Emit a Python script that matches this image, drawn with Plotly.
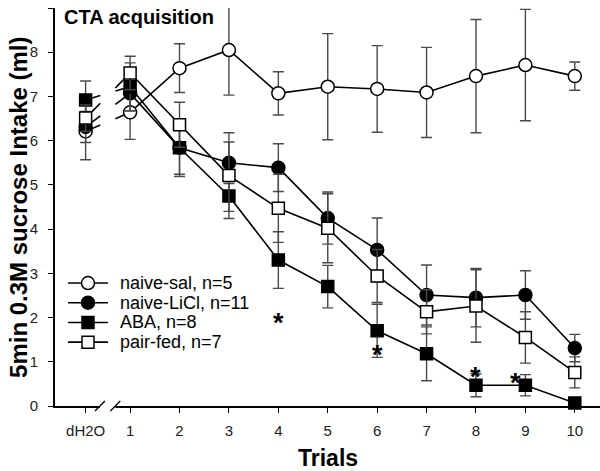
import plotly.graph_objects as go

# ---------------- data ----------------
tick_labels = ["dH2O", "1", "2", "3", "4", "5", "6", "7", "8", "9", "10"]
x_dh2o = 0.1
trials = [1, 2, 3, 4, 5, 6, 7, 8, 9, 10]

naive_sal = [6.21, 6.64, 7.64, 8.05, 7.07, 7.22, 7.17, 7.09, 7.46, 7.71, 7.46]
naive_sal_err = [0.64, 0.61, 0.55, 1.02, 0.49, 1.20, 0.98, 1.02, 1.28, 1.26, 0.32]

naive_licl = [6.31, 7.07, 5.84, 5.50, 5.39, 4.25, 3.53, 2.51, 2.45, 2.51, 1.31]
naive_licl_err = [0.35, 0.40, 0.65, 0.47, 0.54, 0.59, 0.72, 0.68, 0.66, 0.55, 0.31]

aba = [6.92, 7.22, 5.84, 4.75, 3.30, 2.70, 1.70, 1.18, 0.47, 0.47, 0.07]
aba_err = [0.43, 0.54, 0.60, 0.35, 0.64, 0.48, 0.60, 0.61, 0.26, 0.24, 0.05]

pair_fed = [6.51, 7.53, 6.36, 5.21, 4.47, 4.02, 2.94, 2.13, 2.26, 1.55, 0.76]
pair_fed_err = [0.30, 0.38, 0.51, 0.97, 0.77, 0.78, 0.60, 0.50, 0.82, 0.58, 0.35]

names = ["naive-sal, n=5", "naive-LiCl, n=11", "ABA, n=8", "pair-fed, n=7"]

sig_x = [4, 6, 8, 8.8]
sig_y = [2.0, 1.27, 0.78, 0.63]

# ---------------- style ----------------
FONT = "Liberation Sans, Arial, sans-serif"
series = [
    (naive_sal, naive_sal_err, "circle", "white", 13),
    (naive_licl, naive_licl_err, "circle", "black", 13),
    (aba, aba_err, "square", "black", 12),
    (pair_fed, pair_fed_err, "square", "white", 12),
]
stub_f, stub_g = 0.33, 0.67  # fraction of dH2O->1 segment kept on each side of the axis break

fig = go.Figure()

# broken connector stubs between dH2O and trial 1
for vals, err, sym, fill, size in series:
    x0, x1 = x_dh2o, trials[0]
    y0, y1 = vals[0], vals[1]
    xs = [x0, x0 + stub_f * (x1 - x0), None, x0 + stub_g * (x1 - x0), x1]
    ys = [y0, y0 + stub_f * (y1 - y0), None, y0 + stub_g * (y1 - y0), y1]
    fig.add_trace(go.Scatter(x=xs, y=ys, mode="lines", line=dict(color="black", width=1.6),
                             showlegend=False, hoverinfo="skip"))

for (vals, err, sym, fill, size), nm in zip(series, names):
    xs = [x_dh2o, None] + trials
    ys = [vals[0], None] + vals[1:]
    es = [err[0], None] + err[1:]
    fig.add_trace(go.Scatter(
        x=xs, y=ys, name=nm, mode="lines+markers", showlegend=False, cliponaxis=False,
        line=dict(color="black", width=1.6),
        marker=dict(symbol=sym, size=size, color=fill, opacity=1,
                    line=dict(color="black", width=1.5)),
        error_y=dict(type="data", array=es, visible=True, color="#4a4a4a", thickness=1.4, width=5.5),
        connectgaps=False,
    ))

# custom legend on an overlay axis pair (row index layout)
for i, ((vals, err, sym, fill, size), nm) in enumerate(zip(series, names)):
    fig.add_trace(go.Scatter(
        x=[0, 0.5, 1], y=[i, i, i], mode="lines+markers", xaxis="x2", yaxis="y2",
        showlegend=False, hoverinfo="skip", cliponaxis=False,
        line=dict(color="black", width=1.6),
        marker=dict(symbol=sym, size=[0, size, 0], color=fill, opacity=1,
                    line=dict(color="black", width=1.5)),
    ))
    fig.add_annotation(x=1, y=i, xref="x2", yref="y2", xanchor="left", yanchor="middle",
                       xshift=10, text=nm, showarrow=False,
                       font=dict(family=FONT, size=18, color="black"))

for sx, sy in zip(sig_x, sig_y):
    fig.add_annotation(x=sx, y=sy, text="<b>*</b>", showarrow=False,
                       font=dict(family=FONT, size=27, color="black"), yanchor="middle", yshift=-5)

fig.add_annotation(x=0.013, y=1.0, xref="paper", yref="paper", xanchor="left", yanchor="top",
                   yshift=4, text="<b>CTA acquisition</b>", showarrow=False,
                   font=dict(family=FONT, size=20, color="black"))

fig.add_annotation(x=0.5, y=-0.131, xref="paper", yref="paper", xanchor="center", yanchor="middle",
                   text="<b>Trials</b>", showarrow=False, font=dict(family=FONT, size=23, color="black"))
fig.add_annotation(x=-0.068, y=0.5, xref="paper", yref="paper", xanchor="center", yanchor="middle",
                   textangle=-90, text="<b>5min 0.3M sucrose Intake (ml)</b>", showarrow=False,
                   font=dict(family=FONT, size=24, color="black"))

# axis break on x axis
brk_a, brk_b = 0.39, 0.70
fig.add_shape(type="line", xref="x", yref="paper", x0=brk_a, x1=brk_b, y0=0, y1=0,
              line=dict(color="white", width=4))
for bx in (brk_a, brk_b):
    fig.add_shape(type="line", xref="x", yref="paper", x0=bx - 0.1, x1=bx + 0.1,
                  y0=-0.0126, y1=0.0126, line=dict(color="black", width=1.3))

fig.update_xaxes(range=[-0.52, 10.51], tickmode="array", tickvals=[x_dh2o] + trials,
                 ticktext=tick_labels, showgrid=False, zeroline=False, showline=True,
                 linecolor="black", linewidth=2, ticks="outside", ticklen=5, tickwidth=1.3,
                 tickcolor="black", tickfont=dict(family=FONT, size=15, color="#222"),
                 ticklabelstandoff=5, automargin=False)
fig.update_yaxes(range=[0, 9], tickvals=list(range(10)), showgrid=False, zeroline=False,
                 showline=True, linecolor="black", linewidth=2, ticks="outside", ticklen=5,
                 tickwidth=1.3, tickcolor="black", tickfont=dict(family=FONT, size=15, color="#222"),
                 ticklabelstandoff=7, automargin=False)

fig.update_layout(
    width=600, height=471, margin=dict(l=55, r=0, t=8, b=65, autoexpand=False),
    paper_bgcolor="white", plot_bgcolor="white",
    xaxis2=dict(domain=[0.0239, 0.0972], range=[0, 1], visible=False, anchor="y2", fixedrange=True),
    yaxis2=dict(domain=[0.1357, 0.3337], range=[3.5, -0.5], visible=False, anchor="x2", fixedrange=True),
    showlegend=False,
)

fig.write_html("out.html", config={"displayModeBar": False},
               post_script="document.body.style.margin='0px';document.body.style.overflow='hidden';")
